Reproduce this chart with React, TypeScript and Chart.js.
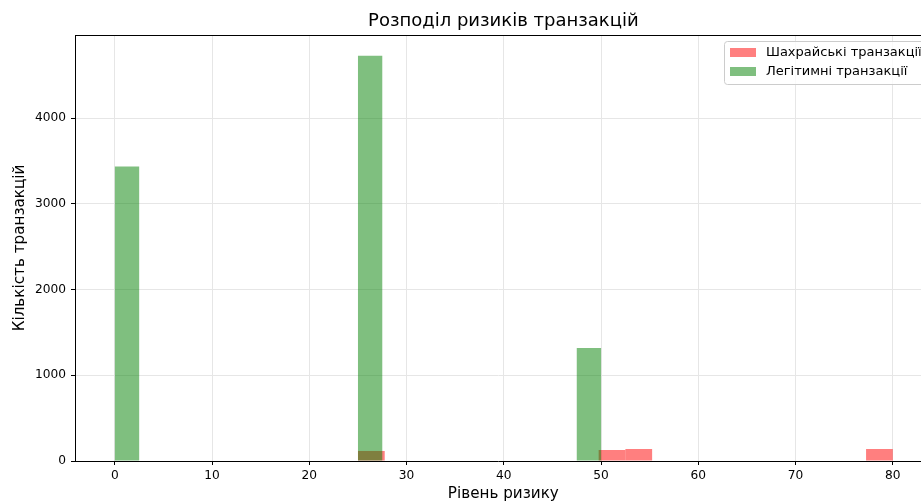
import React, { useEffect, useRef } from "react";
import { Chart, registerables } from "chart.js";

Chart.register(...registerables);

const CHART_TITLE = "Розподіл ризиків транзакцій";
const X_LABEL = "Рівень ризику";
const Y_LABEL = "Кількість транзакцій";
const FRAUD_LABEL = "Шахрайські транзакції";
const LEGIT_LABEL = "Легітимні транзакції";

// Fraud histogram: 20 bins from 25 to 80
const FRAUD_BIN_START = 25;
const FRAUD_BIN_WIDTH = 2.75;
const FRAUD_COUNTS = [117, 0, 0, 0, 0, 0, 0, 0, 0, 128, 140, 0, 0, 0, 0, 0, 0, 0, 0, 140];

// Legit histogram: 20 bins from 0 to 50
const LEGIT_BIN_START = 0;
const LEGIT_BIN_WIDTH = 2.5;
const LEGIT_COUNTS = [3435, 0, 0, 0, 0, 0, 0, 0, 0, 0, 4727, 0, 0, 0, 0, 0, 0, 0, 0, 1319];

const X_TICKS = [0, 10, 20, 30, 40, 50, 60, 70, 80];
const Y_TICKS = [0, 1000, 2000, 3000, 4000];

const X_MIN = -4.1;
const X_MAX = 82.9;
const X_FULL_MAX = 84;
const Y_MAX = 4968;

const FRAUD_COLOR = "rgba(255,0,0,0.5)";
const LEGIT_COLOR = "rgba(0,128,0,0.5)";
const FONT = '"DejaVu Sans", sans-serif';

function toPoints(start: number, width: number, counts: number[]) {
  return counts.map((c, i) => ({ x: start + (i + 0.5) * width, y: c }));
}

const decorPlugin = {
  id: "decor",
  afterDraw(chart: any) {
    const { ctx, chartArea: a } = chart;
    const xs = chart.scales.x;
    const axesRight = xs.getPixelForValue(X_FULL_MAX);
    const cx = (a.left + axesRight) / 2;
    ctx.save();
    // top spine
    ctx.strokeStyle = "#000";
    ctx.lineWidth = 1;
    ctx.beginPath();
    ctx.moveTo(a.left, Math.round(a.top) + 0.5);
    ctx.lineTo(a.right, Math.round(a.top) + 0.5);
    ctx.stroke();

    ctx.fillStyle = "#000";
    ctx.textAlign = "center";
    ctx.textBaseline = "middle";
    ctx.font = `18px ${FONT}`;
    ctx.fillText(CHART_TITLE, cx, 21);

    ctx.font = `15.2px ${FONT}`;
    ctx.fillText(X_LABEL, cx, 494);

    ctx.save();
    ctx.translate(20, (a.top + a.bottom) / 2);
    ctx.rotate(-Math.PI / 2);
    ctx.fillText(Y_LABEL, 0, 0);
    ctx.restore();

    // legend
    const lx = 724.5, ly = 41.5, lw = 202, lh = 43, r = 3;
    ctx.beginPath();
    ctx.moveTo(lx + r, ly);
    ctx.lineTo(lx + lw - r, ly);
    ctx.arcTo(lx + lw, ly, lx + lw, ly + r, r);
    ctx.lineTo(lx + lw, ly + lh - r);
    ctx.arcTo(lx + lw, ly + lh, lx + lw - r, ly + lh, r);
    ctx.lineTo(lx + r, ly + lh);
    ctx.arcTo(lx, ly + lh, lx, ly + lh - r, r);
    ctx.lineTo(lx, ly + r);
    ctx.arcTo(lx, ly, lx + r, ly, r);
    ctx.closePath();
    ctx.fillStyle = "rgba(255,255,255,0.8)";
    ctx.fill();
    ctx.strokeStyle = "#cccccc";
    ctx.lineWidth = 1;
    ctx.stroke();

    ctx.fillStyle = FRAUD_COLOR;
    ctx.fillRect(730, 48, 26, 9);
    ctx.fillStyle = LEGIT_COLOR;
    ctx.fillRect(730, 67, 26, 9);

    ctx.fillStyle = "#000";
    ctx.textAlign = "left";
    ctx.font = `13px ${FONT}`;
    ctx.fillText(FRAUD_LABEL, 766, 52.5);
    ctx.fillText(LEGIT_LABEL, 766, 71.5);
    ctx.restore();
  },
};

export default function App() {
  const ref = useRef<HTMLCanvasElement | null>(null);

  useEffect(() => {
    if (!ref.current) return;
    const gridColor = "#e6e6e6";
    const tickFont = { family: FONT, size: 12.2 };
    const barCommon = {
      borderWidth: 0,
      barPercentage: 1,
      categoryPercentage: 1,
      inflateAmount: 0,
      grouped: false,
    };
    const chart = new Chart(ref.current, {
      type: "bar",
      data: {
        datasets: [
          {
            label: FRAUD_LABEL,
            data: toPoints(FRAUD_BIN_START, FRAUD_BIN_WIDTH, FRAUD_COUNTS),
            backgroundColor: FRAUD_COLOR,
            xAxisID: "x2",
            order: 2,
            ...barCommon,
          } as any,
          {
            label: LEGIT_LABEL,
            data: toPoints(LEGIT_BIN_START, LEGIT_BIN_WIDTH, LEGIT_COUNTS),
            backgroundColor: LEGIT_COLOR,
            xAxisID: "x",
            order: 1,
            ...barCommon,
          } as any,
        ],
      },
      options: {
        responsive: false,
        animation: false,
        devicePixelRatio: 1,
        layout: { padding: { top: 35, right: 0, left: 0, bottom: 0 } },
        plugins: {
          legend: { display: false },
          title: { display: false },
          tooltip: { enabled: false },
        },
        scales: {
          x: {
            type: "linear",
            position: "bottom",
            offset: false,
            min: X_MIN,
            max: X_MAX,
            afterBuildTicks: (s: any) => {
              s.ticks = X_TICKS.map((v) => ({ value: v }));
            },
            afterFit: (s: any) => {
              s.height = 43;
            },
            ticks: { color: "#000", font: tickFont, padding: 4, maxRotation: 0, autoSkip: false, callback: (v: any) => String(v) },
            grid: { offset: false, color: gridColor, lineWidth: 1, drawTicks: true, tickLength: 4, tickColor: "#000", tickWidth: 1 },
            border: { color: "#000", width: 1 },
          },
          x2: {
            type: "linear",
            display: false,
            offset: false,
            grid: { offset: false },
            min: X_MIN,
            max: X_MAX,
          },
          y: {
            type: "linear",
            min: 0,
            max: Y_MAX,
            afterBuildTicks: (s: any) => {
              s.ticks = Y_TICKS.map((v) => ({ value: v }));
            },
            afterFit: (s: any) => {
              s.width = 75;
            },
            ticks: { color: "#000", font: tickFont, padding: 5, callback: (v: any) => String(v) },
            grid: { color: gridColor, lineWidth: 1, drawTicks: true, tickLength: 4, tickColor: "#000", tickWidth: 1 },
            border: { color: "#000", width: 1 },
          },
        },
      } as any,
      plugins: [decorPlugin],
    });
    return () => chart.destroy();
  }, []);

  return (
    <div style={{ position: "absolute", left: 0, top: 0, width: 921, height: 504, background: "#fff" }}>
      <canvas ref={ref} width={921} height={504} />
    </div>
  );
}
